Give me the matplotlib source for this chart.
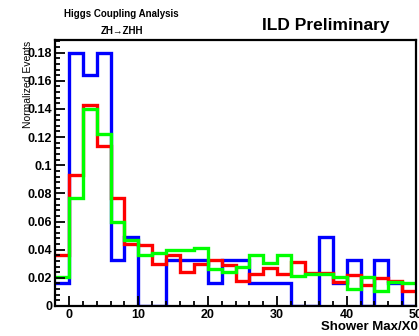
import numpy as np
import matplotlib
matplotlib.use("Agg")
import matplotlib.pyplot as plt
from matplotlib.ticker import MultipleLocator, FuncFormatter

plt.rcParams['font.family'] = ['Liberation Sans', 'DejaVu Sans']

# bin edges of Shower Max/X0 (width 2)
edges = np.arange(-2, 51, 2)

blue = [0.0164, 0.180, 0.164, 0.180, 0.0328, 0.049, 0.0, 0.0, 0.0328, 0.0328,
        0.0328, 0.0164, 0.0328, 0.0328, 0.0164, 0.0164, 0.0164, 0.0, 0.0, 0.049,
        0.0164, 0.0328, 0.0, 0.0328, 0.0164, 0.0]
red = [0.036, 0.093, 0.143, 0.114, 0.077, 0.044, 0.043, 0.030, 0.036, 0.024,
       0.030, 0.033, 0.029, 0.018, 0.023, 0.027, 0.0226, 0.031, 0.0236, 0.0236,
       0.017, 0.022, 0.015, 0.0196, 0.0177, 0.0108]
green = [0.0207, 0.077, 0.140, 0.122, 0.060, 0.047, 0.036, 0.038, 0.040, 0.040,
         0.0415, 0.026, 0.024, 0.028, 0.036, 0.0306, 0.036, 0.021, 0.0226, 0.0226,
         0.0207, 0.0118, 0.0203, 0.0108, 0.0172, 0.016]

fig = plt.figure(figsize=(4.19, 3.36), dpi=100)
ax = fig.add_axes([0.1313, 0.0893, 0.8617, 0.7917])

for vals, col in [(blue, '#0000ff'), (red, '#ff0000'), (green, '#00ff00')]:
    ax.stairs(vals, edges, color=col, linewidth=2.4, baseline=None)

ax.set_xlim(-2, 50)
ax.set_ylim(0, 0.189)

ax.xaxis.set_major_locator(MultipleLocator(10))
ax.xaxis.set_minor_locator(MultipleLocator(2))
ax.yaxis.set_major_locator(MultipleLocator(0.02))
ax.yaxis.set_minor_locator(MultipleLocator(0.004))

def yfmt(v, pos):
    s = ('%.2f' % v).rstrip('0').rstrip('.')
    return s if s else '0'
ax.yaxis.set_major_formatter(FuncFormatter(yfmt))

ax.tick_params(which='both', direction='in', top=False, right=False, width=1.3)
ax.tick_params(which='major', length=7, labelsize=9, pad=2)
ax.tick_params(which='minor', length=3.5)
for lab in ax.get_xticklabels() + ax.get_yticklabels():
    lab.set_fontweight('bold')
for sp in ax.spines.values():
    sp.set_linewidth(1.6)

fig.text(0.997, 0.028, 'Shower Max/X0', ha='right', va='center', fontsize=9.5,
         fontweight='bold')
fig.text(0.067, 0.88, 'Normalized Events', rotation=90, ha='center', va='top',
         fontsize=7.5)

fig.text(0.289, 0.958, 'Higgs Coupling Analysis', ha='center', va='center',
         fontsize=7, fontweight='bold')
fig.text(0.292, 0.908, 'ZH\u2192ZHH', ha='center', va='center', fontsize=7,
         fontweight='bold')
fig.text(0.625, 0.925, 'ILD Preliminary', ha='left', va='center', fontsize=12.5,
         fontweight='bold')

fig.savefig('out.png', dpi=100)
